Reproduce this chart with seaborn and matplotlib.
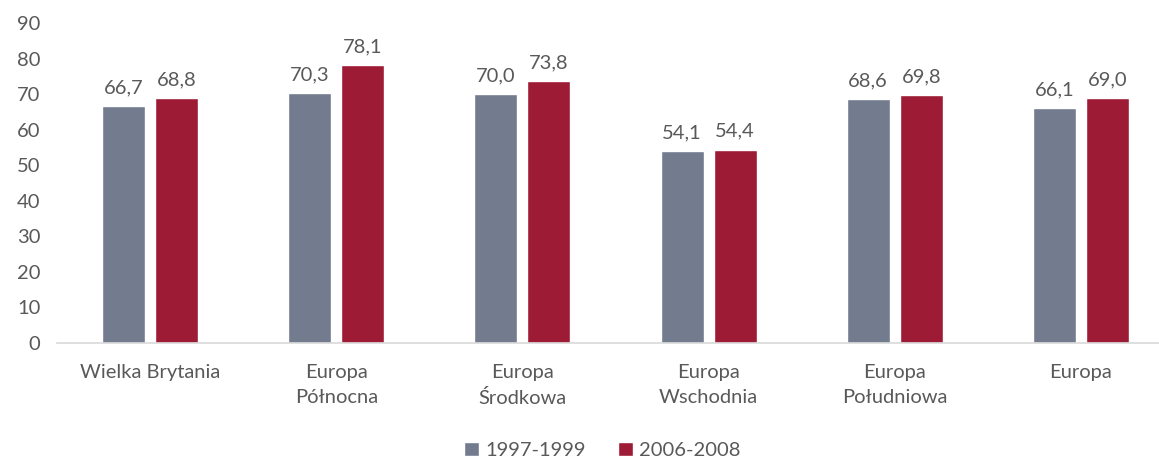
import matplotlib
matplotlib.use("Agg")
import matplotlib.pyplot as plt
import seaborn as sns
import pandas as pd

categories = ["Wielka Brytania", "Europa\nPółnocna", "Europa\nŚrodkowa", "Europa\nWschodnia", "Europa\nPołudniowa", "Europa"]
series_names = ["1997-1999", "2006-2008"]
values_1997 = [66.7, 70.3, 70.0, 54.1, 68.6, 66.1]
values_2006 = [68.8, 78.1, 73.8, 54.4, 69.8, 69.0]
colors = ["#737B8E", "#9E1B36"]

sns.set_theme(style="white")
plt.rcParams['font.family'] = ['Lato', 'DejaVu Sans']
text_color = "#595959"
fs = 14.5

df = pd.DataFrame({
    "cat": categories * 2,
    "series": [series_names[0]] * 6 + [series_names[1]] * 6,
    "val": values_1997 + values_2006,
})

fig = plt.figure(figsize=(11.59, 4.61), dpi=100)
ax = fig.add_axes([57 / 1159, 1 - 343 / 461, 1117 / 1159, 320 / 461])
sns.barplot(data=df, x="cat", y="val", hue="series", palette=colors,
            width=0.57, gap=0.19, ax=ax, legend=True, saturation=1)

for cont in ax.containers:
    ax.bar_label(cont, labels=[f"{v:.1f}".replace(".", ",") for v in cont.datavalues],
                 padding=7, fontsize=fs, color=text_color)

ax.set_ylim(0, 90)
ax.set_yticks(range(0, 91, 10))
ax.set_xlim(-0.5, 5.5)
ax.set_xlabel("")
ax.set_ylabel("")
for s in ["top", "right", "left"]:
    ax.spines[s].set_visible(False)
ax.spines["bottom"].set_color("#D9D9D9")
ax.spines["bottom"].set_linewidth(1.2)
ax.tick_params(axis="both", length=0, labelsize=fs, labelcolor=text_color)
ax.tick_params(axis="x", pad=15)
ax.tick_params(axis="y", pad=12)
for lbl in ax.get_xticklabels():
    lbl.set_linespacing(1.55)

handles, labels = ax.get_legend_handles_labels()
ax.legend_.remove()
fig.legend(handles, labels, loc="lower center", bbox_to_anchor=(602 / 1159, -0.035),
           ncol=2, frameon=False, fontsize=fs, handlelength=0.75, handleheight=0.75,
           handletextpad=0.3, columnspacing=1.6, labelcolor=text_color)

fig.savefig("out.png", dpi=100)
